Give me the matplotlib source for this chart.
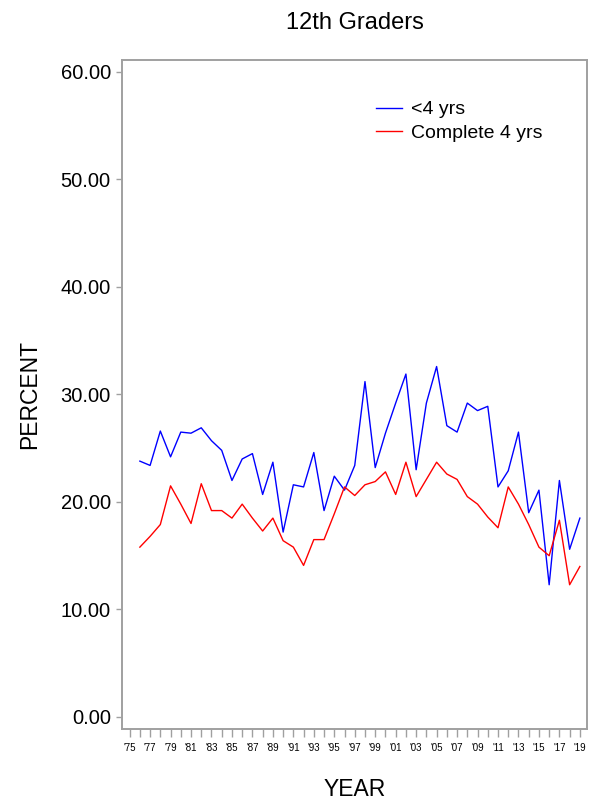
import numpy as np
import matplotlib
matplotlib.use('Agg')
import matplotlib.pyplot as plt
from matplotlib.ticker import MultipleLocator, FixedLocator

plt.rcParams['font.family'] = ['Liberation Sans', 'DejaVu Sans']

years = np.arange(1976, 2020)

# % of 12th graders, parents with less than 4 yrs of college
less_4yrs = [23.8, 23.4, 26.6, 24.2, 26.5, 26.4, 26.9, 25.7, 24.8, 22.0,
             24.0, 24.5, 20.7, 23.7, 17.2, 21.6, 21.4, 24.6, 19.2, 22.4,
             21.1, 23.4, 31.2, 23.2, 26.4, 29.2, 31.9, 23.0, 29.2, 32.6,
             27.1, 26.5, 29.2, 28.5, 28.9, 21.4, 22.9, 26.5, 19.0, 21.1,
             12.3, 22.0, 15.6, 18.5]

# parents completed 4 yrs of college
complete_4yrs = [15.8, 16.8, 17.9, 21.5, 19.8, 18.0, 21.7, 19.2, 19.2, 18.5,
                 19.8, 18.5, 17.3, 18.5, 16.4, 15.8, 14.1, 16.5, 16.5, 18.9,
                 21.4, 20.6, 21.6, 21.9, 22.8, 20.7, 23.7, 20.5, 22.1, 23.7,
                 22.6, 22.1, 20.5, 19.8, 18.6, 17.6, 21.4, 19.8, 17.9, 15.8,
                 15.0, 18.3, 12.3, 14.0]

tick_years = np.arange(1975, 2020, 2)
tick_labels = ["'%02d" % (y % 100) for y in tick_years]

grey = '#a0a0a0'

fig = plt.figure(figsize=(5.92, 8.02), dpi=100)
ax = fig.add_axes([0.206, 0.091, 0.7856, 0.8348])

ax.plot(years, less_4yrs, color='#0000ff', lw=1.0, label='<4 yrs')
ax.plot(years, complete_4yrs, color='#ff0000', lw=1.0, label='Complete 4 yrs')

ax.set_xlim(1974.25, 2019.7)
ax.set_ylim(-1.12, 61.16)

ax.set_yticks(np.arange(0, 61, 10))
ax.set_yticklabels(['%.2f' % v for v in np.arange(0, 61, 10)], fontsize=14.5)

ax.xaxis.set_major_locator(FixedLocator(tick_years))
ax.set_xticklabels(tick_labels, fontsize=7)
ax.xaxis.set_minor_locator(MultipleLocator(1))

for s in ax.spines.values():
    s.set_color(grey)
    s.set_linewidth(1.4)

ax.tick_params(axis='y', direction='out', length=4, width=1, color=grey, pad=4)
ax.tick_params(axis='x', which='both', direction='out', length=6, width=1,
               color=grey, pad=4)

ax.set_title('12th Graders', fontsize=17, pad=22)
ax.set_ylabel('PERCENT', fontsize=16.5, labelpad=14)
ax.set_xlabel('YEAR', fontsize=16.5, labelpad=18)

ax.legend(loc='upper left', bbox_to_anchor=(0.53, 0.95), frameon=False,
          fontsize=14, handlelength=1.35, handletextpad=0.45, labelspacing=0.3,
          borderaxespad=0)

fig.savefig('out.png', dpi=100)
